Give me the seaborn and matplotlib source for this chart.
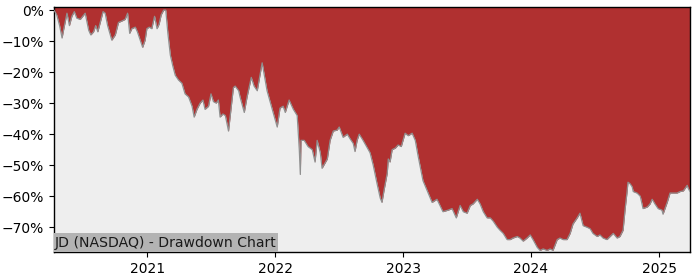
import matplotlib
matplotlib.use("Agg")
import matplotlib.pyplot as plt
import matplotlib.ticker as mticker
import matplotlib.dates as mdates
from matplotlib.patches import Rectangle
import pandas as pd
import seaborn as sns

title_text = "JD (NASDAQ) - Drawdown Chart"

dates = [
    "2020-04-10", "2020-04-18", "2020-04-26", "2020-05-03", "2020-05-08", "2020-05-17",
    "2020-05-24", "2020-05-31", "2020-06-07", "2020-06-14", "2020-06-24", "2020-07-08",
    "2020-07-18", "2020-07-24", "2020-08-01", "2020-08-07", "2020-08-13", "2020-08-20",
    "2020-08-28", "2020-09-03", "2020-09-10", "2020-09-22", "2020-10-02", "2020-10-11",
    "2020-10-21", "2020-10-30", "2020-11-06", "2020-11-12", "2020-11-18", "2020-11-28",
    "2020-12-04", "2020-12-12", "2020-12-19", "2020-12-26", "2020-12-31", "2021-01-07",
    "2021-01-14", "2021-01-22", "2021-01-29", "2021-02-04", "2021-02-10", "2021-02-17",
    "2021-02-23", "2021-03-01", "2021-03-08", "2021-03-15", "2021-03-22", "2021-03-31",
    "2021-04-10", "2021-04-19", "2021-04-29", "2021-05-09", "2021-05-15", "2021-05-23",
    "2021-06-01", "2021-06-09", "2021-06-15", "2021-06-25", "2021-07-02", "2021-07-09",
    "2021-07-17", "2021-07-23", "2021-07-28", "2021-08-05", "2021-08-12", "2021-08-21",
    "2021-08-28", "2021-09-04", "2021-09-09", "2021-09-19", "2021-09-23", "2021-10-05",
    "2021-10-13", "2021-10-25", "2021-11-02", "2021-11-11", "2021-11-25", "2021-12-09",
    "2021-12-24", "2022-01-07", "2022-01-15", "2022-01-24", "2022-01-30", "2022-02-10",
    "2022-02-22", "2022-03-05", "2022-03-11", "2022-03-14", "2022-03-16", "2022-03-25",
    "2022-04-05", "2022-04-17", "2022-04-25", "2022-05-01", "2022-05-10", "2022-05-15",
    "2022-05-30", "2022-06-07", "2022-06-16", "2022-06-27", "2022-07-03", "2022-07-14",
    "2022-07-26", "2022-08-03", "2022-08-12", "2022-08-17", "2022-08-23", "2022-08-29",
    "2022-09-09", "2022-09-29", "2022-10-08", "2022-10-19", "2022-10-28", "2022-11-02",
    "2022-11-08", "2022-11-17", "2022-11-20", "2022-11-25", "2022-12-01", "2022-12-10",
    "2022-12-18", "2022-12-27", "2023-01-01", "2023-01-07", "2023-01-16", "2023-01-27",
    "2023-02-05", "2023-02-13", "2023-02-27", "2023-03-14", "2023-03-25", "2023-04-08",
    "2023-04-25", "2023-05-10", "2023-05-21", "2023-06-02", "2023-06-13", "2023-06-22",
    "2023-07-03", "2023-07-12", "2023-07-20", "2023-08-01", "2023-08-09", "2023-08-18",
    "2023-08-29", "2023-09-07", "2023-09-15", "2023-09-27", "2023-10-05", "2023-10-14",
    "2023-10-25", "2023-11-03", "2023-11-11", "2023-11-23", "2023-12-01", "2023-12-10",
    "2023-12-21", "2023-12-30", "2024-01-07", "2024-01-19", "2024-01-27", "2024-02-05",
    "2024-02-16", "2024-02-25", "2024-03-04", "2024-03-16", "2024-03-24", "2024-04-02",
    "2024-04-13", "2024-04-22", "2024-04-30", "2024-05-12", "2024-05-20", "2024-05-29",
    "2024-06-09", "2024-06-18", "2024-06-26", "2024-07-08", "2024-07-16", "2024-07-25",
    "2024-08-05", "2024-08-14", "2024-08-23", "2024-09-03", "2024-09-11", "2024-09-20",
    "2024-09-26", "2024-10-01", "2024-10-04", "2024-10-10", "2024-10-16", "2024-10-19",
    "2024-10-30", "2024-11-08", "2024-11-16", "2024-11-28", "2024-12-06", "2024-12-12",
    "2024-12-20", "2024-12-29", "2025-01-09", "2025-01-12", "2025-01-24", "2025-02-01",
    "2025-02-10", "2025-02-21", "2025-03-02", "2025-03-11", "2025-03-22", "2025-03-25",
    "2025-03-30",
]

drawdown_pct = [
    0, -1.6, -5, -9, -6, -1,
    -5, -2, -0.5, -2.6, -3, -1,
    -6.5, -8, -7, -5, -7, -4,
    -0.5, -1, -5, -9.7, -8, -4,
    -3.5, -3, -1, -7.5, -6, -5.5,
    -7, -9.7, -12, -9.7, -6, -5.5,
    -6, -2, -6, -4.5, -1.5, 0,
    0, -7.5, -14.5, -18, -21, -22.5,
    -23.6, -27, -28, -31, -34.5, -32,
    -30, -29, -32, -31, -27, -29.5,
    -30, -29, -34.5, -33.5, -34, -39,
    -32, -25, -24.5, -26, -28, -33,
    -28, -21.7, -24.5, -26, -17, -26,
    -32, -37.7, -31.6, -31, -33, -29,
    -32, -34, -45, -53, -42, -42,
    -44, -45, -49, -42, -46, -51,
    -48, -42, -39, -38.7, -37.7, -41,
    -40, -41.5, -43, -45.6, -42, -40,
    -42, -46, -50, -56, -60.6, -62,
    -58, -52.6, -48, -49, -45, -44.5,
    -43.5, -44, -42, -39.7, -40.5, -39.7,
    -42, -47, -55, -59, -62, -61,
    -65, -64.5, -64, -67, -63, -65,
    -65.5, -63, -62.5, -61, -62.5, -65,
    -67, -67, -68, -70, -71, -72,
    -74, -74, -73.5, -73, -73.5, -74.5,
    -73.5, -72.5, -74, -76.5, -77.5, -77,
    -77.5, -77, -77.5, -74, -73.5, -74,
    -74, -72, -69, -67, -65.5, -69.5,
    -70, -70.5, -72, -73, -72.5, -73.5,
    -74, -73, -72, -73.5, -73, -71,
    -64, -59, -55.5, -56, -57, -58.5,
    -59, -60, -64, -63.5, -62.5, -61,
    -62.5, -64, -64.5, -65.8, -62, -59,
    -59, -59, -58.5, -58.3, -56.5, -57.5,
    -58.5,
]

df = pd.DataFrame({"date": pd.to_datetime(dates), "dd": [v / 100.0 for v in drawdown_pct]})

RED = "#b03030"
BG = "#eeeeee"
Y_TOP = 0.01
Y_BOT = -0.78

sns.set_style("ticks")
plt.rcParams["font.family"] = ["DejaVu Sans"]

fig = plt.figure(figsize=(7.0, 2.8), dpi=100)
ax = fig.add_axes([54 / 700, 1 - 252 / 280, (690 - 54) / 700, (252 - 7) / 280])
ax.set_facecolor(BG)

ax.fill_between(df["date"], df["dd"], Y_TOP, color=RED, linewidth=0, zorder=2)
sns.lineplot(data=df, x="date", y="dd", ax=ax, color="#909090", linewidth=0.9, zorder=3)

ax.set_xlim(df["date"].iloc[0], df["date"].iloc[-1])
ax.set_ylim(Y_BOT, Y_TOP)
ax.yaxis.set_major_locator(mticker.MultipleLocator(0.1))
ax.yaxis.set_major_formatter(mticker.PercentFormatter(1.0, decimals=0))
ax.xaxis.set_major_locator(mdates.YearLocator())
ax.xaxis.set_major_formatter(mdates.DateFormatter("%Y"))
ax.set_xlabel("")
ax.set_ylabel("")
ax.tick_params(axis="both", labelsize=10, colors="black", length=3.5)
for s in ax.spines.values():
    s.set_color("black")
    s.set_linewidth(1.0)
    s.set_visible(True)

ax.add_patch(Rectangle((0, 0), (278 - 54) / 636, (252 - 233.3) / 245, transform=ax.transAxes,
                       facecolor="#b3b3b3", edgecolor="none", zorder=4))
ax.text(0.0015, (252 - 247.3) / 245, title_text, transform=ax.transAxes, fontsize=10.1,
        color="#1a1a1a", ha="left", va="baseline", zorder=5)

fig.savefig("out.png", dpi=100)
